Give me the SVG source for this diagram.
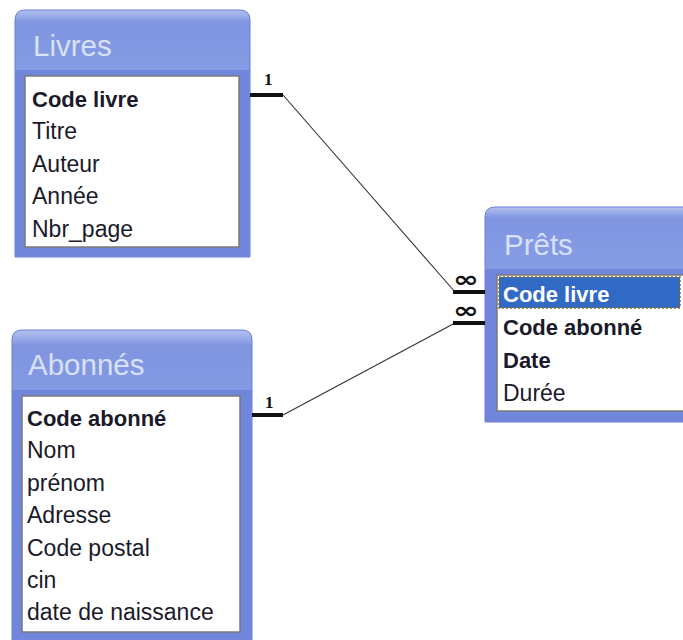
<svg xmlns="http://www.w3.org/2000/svg" width="683" height="640" viewBox="0 0 683 640">
<defs>
<linearGradient id="tbar" x1="0" y1="0" x2="0" y2="1">
<stop offset="0" stop-color="#b4c2f0"/>
<stop offset="0.05" stop-color="#8095e0"/>
<stop offset="0.45" stop-color="#8aa3ea"/>
<stop offset="1" stop-color="#6e84d9"/>
</linearGradient>
<style>
.frame{fill:url(#tbar);stroke:#6a7fd4;stroke-width:1}
.side{fill:#7086da}
.list{fill:#ffffff;stroke:#7a7a7a;stroke-width:1.5}
.title{font-family:"Liberation Sans",Arial,sans-serif;font-size:29.5px;fill:#d9e1f7}
.f{font-family:"Liberation Sans",Arial,sans-serif;font-size:23px;fill:#1a1a2a}
.b{font-weight:bold;font-size:22px}
.card{font-family:"Liberation Serif","Times New Roman",serif;font-size:17px;font-weight:bold;fill:#111}
.inf{font-family:"DejaVu Sans",sans-serif;font-size:31px;font-weight:bold;fill:#111}
.thin{stroke:#333;stroke-width:1.1;fill:none}
.thick{stroke:#111;stroke-width:4;fill:none}
</style>
</defs>
<rect width="683" height="640" fill="#ffffff"/>

<g id="livres">
<path class="frame" d="M15,257 V20 Q15,10 25,10 H240 Q250,10 250,20 V257 Z"/>
<rect class="side" x="15" y="70" width="235" height="187"/>
<rect class="list" x="25" y="76" width="214" height="171"/>
<text class="title" x="33" y="56">Livres</text>
<text class="f b" x="32" y="107">Code livre</text>
<text class="f" x="32" y="139">Titre</text>
<text class="f" x="32" y="172">Auteur</text>
<text class="f" x="32" y="204">Année</text>
<text class="f" x="32" y="237">Nbr_page</text>
</g>

<g id="abonnes">
<path class="frame" d="M12,645 V340 Q12,330 22,330 H242 Q252,330 252,340 V645 Z"/>
<rect class="side" x="12" y="390" width="240" height="255"/>
<rect class="list" x="22" y="396" width="218" height="236"/>
<text class="title" x="28" y="375">Abonnés</text>
<text class="f b" x="27" y="426">Code abonné</text>
<text class="f" x="27" y="458">Nom</text>
<text class="f" x="27" y="491">prénom</text>
<text class="f" x="27" y="523">Adresse</text>
<text class="f" x="27" y="556">Code postal</text>
<text class="f" x="27" y="588">cin</text>
<text class="f" x="27" y="620">date de naissance</text>
</g>

<g id="prets">
<path class="frame" d="M485,422 V217 Q485,207 495,207 H695 V422 Z"/>
<rect class="side" x="485" y="269" width="210" height="153"/>
<rect class="list" x="497" y="275" width="200" height="136"/>
<rect x="499" y="277" width="181" height="31" fill="#316ac5" stroke="#8a6a20" stroke-width="1.5" stroke-dasharray="2,2"/>
<text class="title" x="504" y="255">Prêts</text>
<text class="f b" x="503" y="302" style="fill:#ffffff">Code livre</text>
<text class="f b" x="503" y="335">Code abonné</text>
<text class="f b" x="503" y="368">Date</text>
<text class="f" x="503" y="401">Durée</text>
</g>

<g id="connectors">
<line class="thick" x1="250" y1="95" x2="283" y2="95"/>
<line class="thin" x1="283" y1="95" x2="455" y2="292"/>
<line class="thick" x1="453" y1="292" x2="485" y2="292"/>
<text class="card" x="264" y="85">1</text>
<text class="inf" transform="translate(453,287) scale(1,0.72)">∞</text>

<line class="thick" x1="252" y1="415" x2="283" y2="415"/>
<line class="thin" x1="283" y1="415" x2="455" y2="323"/>
<line class="thick" x1="453" y1="323" x2="485" y2="323"/>
<text class="card" x="265" y="408">1</text>
<text class="inf" transform="translate(453,318) scale(1,0.72)">∞</text>
</g>
</svg>
